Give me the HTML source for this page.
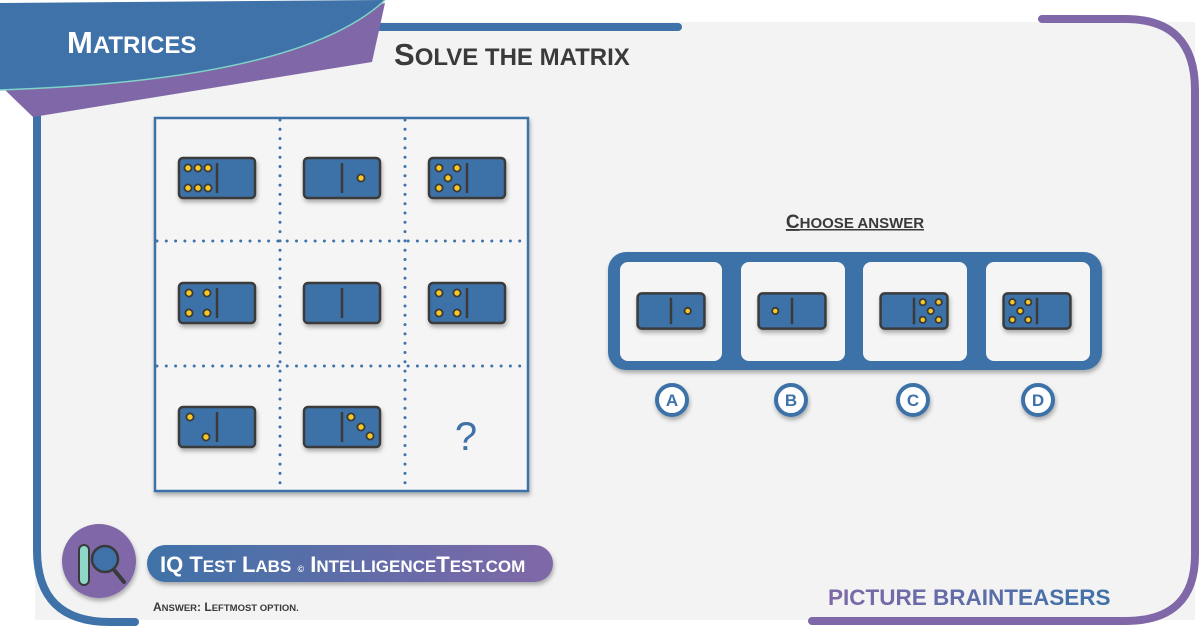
<!DOCTYPE html>
<html><head><meta charset="utf-8"><style>
html,body{margin:0;padding:0;background:#fff;}
svg{display:block;font-family:"Liberation Sans",sans-serif;}
</style></head><body>
<svg id="s" width="1200" height="628" viewBox="0 0 1200 628" xmlns="http://www.w3.org/2000/svg">
<defs>
<filter id="sh" x="-20%" y="-20%" width="140%" height="160%"><feDropShadow dx="1" dy="3" stdDeviation="2" flood-color="#000" flood-opacity="0.3"/></filter>
<linearGradient id="pill" x1="0" x2="1"><stop offset="0" stop-color="#3e72a8"/><stop offset="1" stop-color="#8068a8"/></linearGradient>
<linearGradient id="pb" x1="0" x2="1"><stop offset="0" stop-color="#8068a8"/><stop offset="1" stop-color="#3e72a8"/></linearGradient>
</defs>
<rect x="35" y="22" width="1160" height="598" fill="#f3f3f3"/>
<rect x="0" y="0" width="1200" height="22" fill="#fff"/>
<path d="M1042,19 H1125 Q1195,19 1195,90 V555 Q1195,621 1125,621 H812" fill="none" stroke="#8068a8" stroke-width="8" stroke-linecap="round"/>
<line x1="380" y1="27" x2="678" y2="27" stroke="#3e72a8" stroke-width="8" stroke-linecap="round"/>
<path d="M37,95 V550 Q37,622 110,622 H135" fill="none" stroke="#3e72a8" stroke-width="8" stroke-linecap="round"/>
<polygon points="385,3 372,62 33,117 5,90" fill="#8068a8"/>
<path d="M0,3 L385,0 Q300,80 0,90 Z" fill="#3e72a8"/>
<path d="M385,0 Q300,80 0,90" fill="none" stroke="#7fd3c8" stroke-width="1.5"/>
<text x="67" y="53" fill="#fff" font-weight="bold" font-size="31">M<tspan font-size="24">ATRICES</tspan></text>
<text x="394" y="65" fill="#3a3a3a" font-weight="bold" font-size="31">S<tspan font-size="24">OLVE THE MATRIX</tspan></text>
<rect x="155" y="118" width="373" height="373" fill="#f5f5f5" stroke="#3e72a8" stroke-width="2.5" filter="url(#sh)"/>
<g stroke="#3e72a8" stroke-width="3" stroke-linecap="round" stroke-dasharray="0 9.3">
<line x1="280" y1="120" x2="280" y2="489"/><line x1="405" y1="120" x2="405" y2="489"/>
<line x1="157" y1="241" x2="526" y2="241"/><line x1="157" y1="366" x2="526" y2="366"/>
</g>
<text x="466" y="450" fill="#3e72a8" font-size="40" text-anchor="middle">?</text>
<text x="855" y="228" fill="#3a3a3a" font-weight="bold" font-size="19" text-anchor="middle" text-decoration="underline">C<tspan font-size="15">HOOSE ANSWER</tspan></text>
<rect x="608" y="252" width="494" height="118" rx="18" fill="#3e72a8" filter="url(#sh)"/>
<rect x="620" y="262" width="102" height="99" rx="8" fill="#f5f5f5"/>
<rect x="741" y="262" width="104" height="99" rx="8" fill="#f5f5f5"/>
<rect x="863" y="262" width="104" height="99" rx="8" fill="#f5f5f5"/>
<rect x="986" y="262" width="104" height="99" rx="8" fill="#f5f5f5"/>
<g font-weight="bold" font-size="17" fill="#3e72a8" text-anchor="middle">
<circle cx="672" cy="400" r="15" fill="#fff" stroke="#3e72a8" stroke-width="4" filter="url(#sh)"/><text x="672" y="406">A</text>
<circle cx="791" cy="400" r="15" fill="#fff" stroke="#3e72a8" stroke-width="4" filter="url(#sh)"/><text x="791" y="406">B</text>
<circle cx="913" cy="400" r="15" fill="#fff" stroke="#3e72a8" stroke-width="4" filter="url(#sh)"/><text x="913" y="406">C</text>
<circle cx="1038" cy="400" r="15" fill="#fff" stroke="#3e72a8" stroke-width="4" filter="url(#sh)"/><text x="1038" y="406">D</text>
</g>
<circle cx="99" cy="561" r="37" fill="#8068a8" filter="url(#sh)"/>
<rect x="79" y="545" width="10" height="40" rx="5" fill="#8fd8c8" stroke="#3a3a3a" stroke-width="2"/>
<line x1="115" y1="571" x2="124" y2="582" stroke="#3a3a3a" stroke-width="4" stroke-linecap="round"/>
<circle cx="105" cy="559" r="13" fill="#3e72a8" stroke="#3a3a3a" stroke-width="2.5"/>
<rect x="147" y="545" width="406" height="37" rx="18.5" fill="url(#pill)" filter="url(#sh)"/>
<text x="160" y="572" fill="#fff" font-weight="bold" font-size="22">IQ T<tspan font-size="17">EST</tspan> L<tspan font-size="17">ABS</tspan> <tspan font-size="9">©</tspan>  I<tspan font-size="17">NTELLIGENCE</tspan>T<tspan font-size="17">EST.COM</tspan></text>
<text x="153" y="611" fill="#3a3a3a" font-weight="bold" font-size="12">A<tspan font-size="9.5">NSWER</tspan>: L<tspan font-size="9.5">EFTMOST OPTION.</tspan></text>
<text x="828" y="605" fill="url(#pb)" font-weight="bold" font-size="22.5">PICTURE BRAINTEASERS</text>
<g id="dom"></g>
</svg>
<script>
var P={0:[],1:[[0,0]],2:[[-8,-10],[8,10]],3:[[-10,-10],[0,0],[9,9]],4:[[-9,-10],[9,-10],[-9,10],[9,10]],5:[[-9,-10],[9,-10],[0,0],[-9,10],[9,10]],6:[[-10,-10],[0,-10],[10,-10],[-10,10],[0,10],[10,10]]};
var g=document.getElementById('dom'),h='';
function d(cx,cy,s,l,r){var w=76*s,ht=40*s;
h+='<g filter="url(#sh)"><rect x="'+(cx-w/2)+'" y="'+(cy-ht/2)+'" width="'+w+'" height="'+ht+'" rx="4" fill="#3e72a8" stroke="#3a3a3a" stroke-width="2.5"/></g>';
h+='<line x1="'+cx+'" y1="'+(cy-ht/2+5*s)+'" x2="'+cx+'" y2="'+(cy+ht/2-5*s)+'" stroke="#3a3a3a" stroke-width="2.5"/>';
[[l,-19],[r,19]].forEach(function(a){P[a[0]].forEach(function(p){h+='<circle cx="'+(cx+(a[1]+p[0])*s)+'" cy="'+(cy+p[1]*s)+'" r="'+(3.6*s)+'" fill="#f7c824" stroke="#3a3a3a" stroke-width="1.8"/>';});});}
d(217,178,1,6,0);d(342,178,1,0,1);d(467,178,1,5,0);
d(217,303,1,4,0);d(342,303,1,0,0);d(467,303,1,4,0);
d(217,427,1,2,0);d(342,427,1,0,3);
var s=0.88;d(671,311,s,0,1);d(792,311,s,1,0);d(914,311,s,0,5);d(1037,311,s,5,0);
g.innerHTML=h;
</script>
</body></html>
